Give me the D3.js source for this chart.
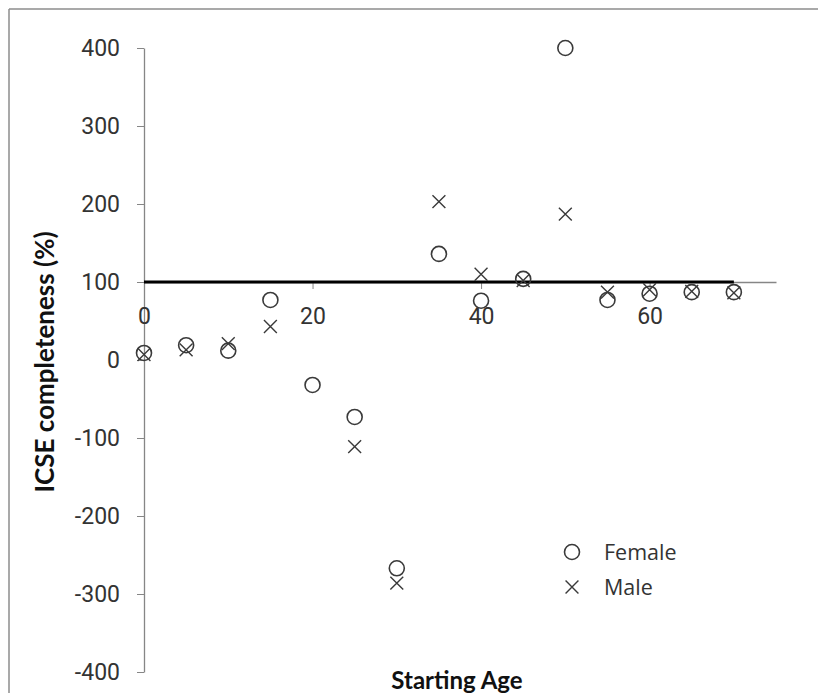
<!DOCTYPE html>
<html>
<head>
<meta charset="utf-8">
<script src="https://cdn.jsdelivr.net/npm/d3@7"></script>
<style>
  body { margin: 0; background: #fff; }
  .tick-label { font-family: "Liberation Sans Narrow", "Roboto", sans-serif; font-size: 23px; fill: #333; }
  .axis-title { font-family: "Lato", "Open Sans", sans-serif; font-weight: bold; fill: #111; }
  .legend-text { font-family: "Open Sans", "Lato", sans-serif; font-size: 21.5px; fill: #333; }
</style>
</head>
<body>
<div id="chart-div"></div>
<script>
var ages = [0, 5, 10, 15, 20, 25, 30, 35, 40, 45, 50, 55, 60, 65, 70];
var female = [9, 19, 12, 77, -32, -73, -267, 136, 76, 104, 400, 77, 85, 87, 87];
var male = [7, 13, 21, 43, null, -111, -286, 203, 110, 102, 187, 87, 90, 88, 86];
var ref_line = [{ age: 0, v: 100 }, { age: 70, v: 100 }];
var x_ticks = [0, 20, 40, 60];
var y_ticks = [-400, -300, -200, -100, 0, 100, 200, 300, 400];

var vars = {};
vars.width = 818;
vars.height = 693;

var svg = d3.select("#chart-div").append("svg")
  .attr("width", vars.width)
  .attr("height", vars.height);

// outer chart frame (only left and top edges show)
svg.append("line").attr("x1", 9).attr("y1", 9).attr("x2", 818).attr("y2", 9)
  .attr("stroke", "#8c8c8c").attr("stroke-width", 1.5);
svg.append("line").attr("x1", 9).attr("y1", 9).attr("x2", 9).attr("y2", 693)
  .attr("stroke", "#8c8c8c").attr("stroke-width", 1.5);

var x = d3.scaleLinear().domain([0, 75]).range([144, 776]);
var y = d3.scaleLinear().domain([-400, 400]).range([672, 48]);

// plain hyphen for negatives, like the original
var fmt = function(d) { return String(d); };

// y axis at x = 0
var y_axis = svg.append("g")
  .attr("transform", "translate(" + x(0) + ",0)")
  .call(d3.axisLeft(y).tickValues(y_ticks).tickSize(7).tickSizeOuter(0).tickFormat(fmt).tickPadding(17));
y_axis.select(".domain").attr("stroke", "#868686").attr("stroke-width", 1.3);
y_axis.selectAll(".tick line").attr("stroke", "#868686");
y_axis.selectAll(".tick text").attr("class", "tick-label").attr("font-family", null).attr("font-size", null);

// x axis crosses at 100
var x_axis = svg.append("g")
  .attr("transform", "translate(0," + y(100) + ")")
  .call(d3.axisBottom(x).tickValues(x_ticks).tickSize(7).tickSizeOuter(0).tickFormat(fmt).tickPadding(19));
x_axis.select(".domain").attr("stroke", "#868686").attr("stroke-width", 1.3);
x_axis.selectAll(".tick line").attr("stroke", "#868686");
x_axis.selectAll(".tick text").attr("class", "tick-label").attr("font-family", null).attr("font-size", null);

// 100% reference line
svg.append("path")
  .datum(ref_line)
  .attr("fill", "none")
  .attr("stroke", "#000")
  .attr("stroke-width", 3)
  .attr("d", d3.line().x(function(d) { return x(d.age); }).y(function(d) { return y(d.v); }));

var female_pts = ages.map(function(a, i) { return { age: a, v: female[i] }; })
  .filter(function(d) { return d.v !== null; });
var male_pts = ages.map(function(a, i) { return { age: a, v: male[i] }; })
  .filter(function(d) { return d.v !== null; });

var cross = d3.symbol().type(d3.symbolX).size(110);

svg.append("g").selectAll("circle")
  .data(female_pts)
  .enter().append("circle")
  .attr("cx", function(d) { return x(d.age); })
  .attr("cy", function(d) { return y(d.v); })
  .attr("r", 7.5)
  .attr("fill", "none")
  .attr("stroke", "#3a3a3a")
  .attr("stroke-width", 1.6);

svg.append("g").selectAll("path")
  .data(male_pts)
  .enter().append("path")
  .attr("d", cross)
  .attr("transform", function(d) { return "translate(" + x(d.age) + "," + y(d.v) + ")"; })
  .attr("fill", "none")
  .attr("stroke", "#3a3a3a")
  .attr("stroke-width", 1.4);

// legend
var legend = svg.append("g");
legend.append("circle").attr("cx", 572).attr("cy", 552).attr("r", 7.5)
  .attr("fill", "none").attr("stroke", "#3a3a3a").attr("stroke-width", 1.6);
legend.append("path").attr("d", cross).attr("transform", "translate(572,587)")
  .attr("fill", "none").attr("stroke", "#3a3a3a").attr("stroke-width", 1.4);
legend.append("text").attr("class", "legend-text").attr("x", 604).attr("y", 552)
  .attr("dy", "0.35em").text("Female");
legend.append("text").attr("class", "legend-text").attr("x", 604).attr("y", 587)
  .attr("dy", "0.35em").text("Male");

// axis titles
svg.append("text").attr("class", "axis-title")
  .attr("transform", "translate(54,362) rotate(-90)")
  .attr("text-anchor", "middle")
  .attr("font-size", 26)
  .text("ICSE completeness (%)");
svg.append("text").attr("class", "axis-title")
  .attr("x", 457).attr("y", 689)
  .attr("text-anchor", "middle")
  .attr("font-size", 24)
  .text("Starting Age");
</script>
</body>
</html>
